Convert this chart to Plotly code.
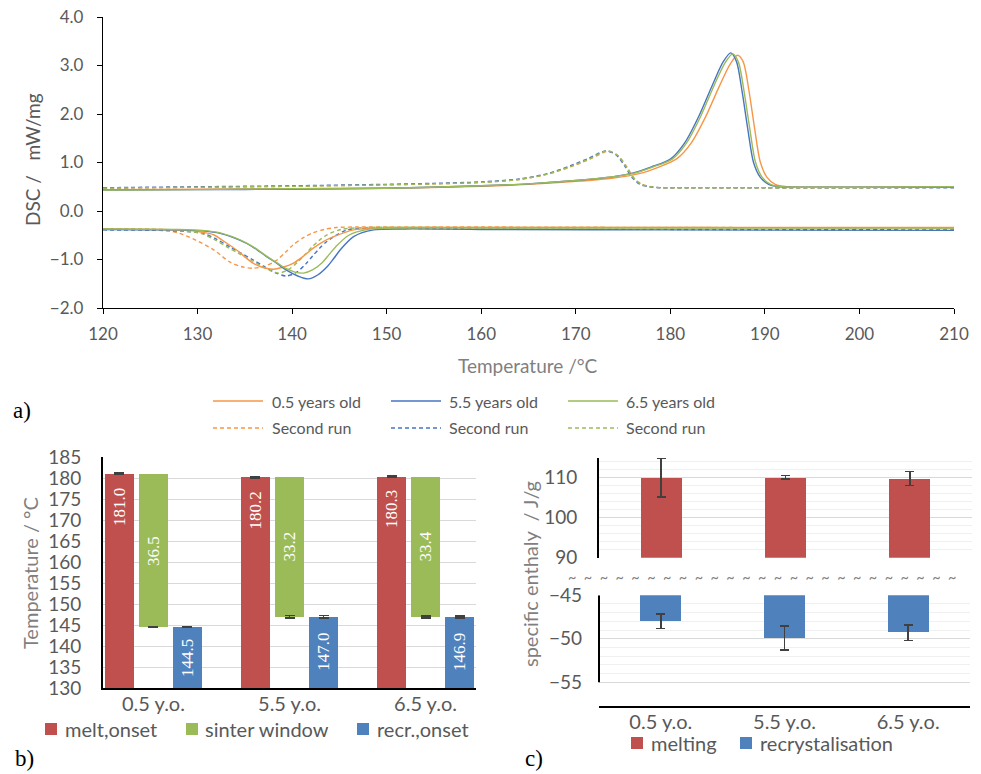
import plotly.graph_objects as go

W, H = 981, 774
def px(x): return x / W
def py(y): return 1 - y / H

SANS = "Lato"
SERIF = "Liberation Serif"
TICK = "#595959"
TITLE = "#7f7f7f"

# ---------------- a) DSC curves ----------------
samples = ["0.5 years old", "5.5 years old", "6.5 years old"]
colors = ["#F79646", "#4675C2", "#9BBB59"]

# first run, heating (melting peak)
T_heat_05 = [120, 130, 140, 150, 160, 165, 170, 174, 176.7, 178.7, 180.7, 182.2, 183.7, 185.2, 186.3, 187.1, 187.7, 188.3, 188.9, 189.5, 190.2, 191.1, 192.3, 195, 200, 210]
D_heat_05 = [0.44, 0.45, 0.46, 0.47, 0.51, 0.55, 0.61, 0.68, 0.77, 0.90, 1.08, 1.40, 1.93, 2.58, 3.02, 3.21, 3.08, 2.50, 1.72, 1.02, 0.70, 0.55, 0.50, 0.49, 0.49, 0.50]
T_heat_55 = [120, 130, 140, 150, 160, 165, 170, 174, 176, 178, 180, 181.5, 183, 184.5, 185.6, 186.4, 187.0, 187.6, 188.2, 188.8, 189.5, 190.4, 191.6, 195, 200, 210]
D_heat_55 = [0.43, 0.44, 0.45, 0.47, 0.52, 0.56, 0.63, 0.71, 0.78, 0.91, 1.07, 1.40, 1.95, 2.62, 3.08, 3.26, 3.08, 2.45, 1.68, 1.00, 0.70, 0.55, 0.50, 0.49, 0.49, 0.49]
T_heat_65 = [120, 130, 140, 150, 160, 165, 170, 174, 176.2, 178.2, 180.2, 181.7, 183.2, 184.7, 185.8, 186.6, 187.2, 187.8, 188.4, 189.0, 189.7, 190.6, 191.8, 195, 200, 210]
D_heat_65 = [0.43, 0.44, 0.46, 0.47, 0.52, 0.56, 0.63, 0.71, 0.78, 0.91, 1.07, 1.40, 1.95, 2.62, 3.06, 3.24, 3.07, 2.46, 1.70, 1.01, 0.70, 0.55, 0.50, 0.49, 0.49, 0.50]

# first run, cooling (recrystallisation)
T_cool_05 = [120, 126, 129, 130.5, 131.7, 132.9, 134.1, 135.9, 137.0, 138.0, 139.0, 140.1, 141.2, 142.2, 143.3, 144.4, 146.5, 150, 160, 180, 210]
D_cool_05 = [-0.37, -0.38, -0.40, -0.44, -0.49, -0.64, -0.80, -1.08, -1.17, -1.20, -1.16, -1.08, -0.93, -0.77, -0.63, -0.53, -0.39, -0.35, -0.34, -0.34, -0.34]
T_cool_55 = [120, 128, 130.5, 132.4, 133.8, 135.2, 136.3, 137.3, 138.4, 139.4, 140.6, 141.7, 142.7, 143.7, 144.4, 145.1, 146.5, 148.6, 152, 160, 180, 210]
D_cool_55 = [-0.38, -0.39, -0.41, -0.46, -0.55, -0.67, -0.80, -0.94, -1.08, -1.22, -1.34, -1.40, -1.32, -1.15, -0.98, -0.80, -0.53, -0.39, -0.37, -0.38, -0.39, -0.40]
T_cool_65 = [120, 128, 130.5, 132.4, 133.8, 135.2, 136.3, 137.3, 138.4, 139.4, 140.3, 141.2, 142.2, 143.2, 143.9, 144.6, 146.0, 148.0, 152, 160, 180, 210]
D_cool_65 = [-0.37, -0.38, -0.40, -0.45, -0.54, -0.66, -0.79, -0.93, -1.07, -1.19, -1.26, -1.28, -1.21, -1.06, -0.90, -0.74, -0.50, -0.38, -0.35, -0.35, -0.35, -0.35]

# second run, heating
T_heat2_05 = [120, 130, 140, 150, 155, 160, 164, 167, 169.6, 171.6, 173.4, 174.5, 175.4, 176.2, 177.0, 178.0, 179.2, 182, 190, 200, 210]
D_heat2_05 = [0.47, 0.49, 0.51, 0.54, 0.56, 0.59, 0.65, 0.76, 0.92, 1.08, 1.23, 1.14, 0.91, 0.67, 0.55, 0.50, 0.48, 0.48, 0.48, 0.48, 0.49]
T_heat2_55 = [120, 130, 140, 150, 155, 160, 164, 167, 169.4, 171.4, 173.2, 174.3, 175.2, 176.0, 176.8, 177.8, 179.0, 182, 190, 200, 210]
D_heat2_55 = [0.48, 0.50, 0.52, 0.55, 0.57, 0.60, 0.66, 0.77, 0.93, 1.09, 1.24, 1.15, 0.92, 0.68, 0.55, 0.50, 0.48, 0.48, 0.48, 0.48, 0.48]
T_heat2_65 = [120, 130, 140, 150, 155, 160, 164, 167, 169.5, 171.5, 173.3, 174.4, 175.3, 176.1, 176.9, 177.9, 179.1, 182, 190, 200, 210]
D_heat2_65 = [0.47, 0.49, 0.51, 0.54, 0.56, 0.59, 0.65, 0.76, 0.92, 1.08, 1.24, 1.15, 0.92, 0.68, 0.55, 0.50, 0.48, 0.48, 0.48, 0.48, 0.49]

# second run, cooling
T_cool2_05 = [120, 125, 127, 128.1, 129.8, 131.7, 133.4, 134.7, 135.9, 137.1, 138.4, 139.3, 140.1, 141.2, 142.2, 143.4, 144.7, 147, 150, 160, 180, 210]
D_cool2_05 = [-0.37, -0.38, -0.41, -0.46, -0.60, -0.80, -1.05, -1.15, -1.18, -1.14, -1.01, -0.85, -0.70, -0.55, -0.45, -0.38, -0.34, -0.33, -0.33, -0.33, -0.34, -0.35]
T_cool2_55 = [120, 126, 128.5, 130.6, 132.0, 133.4, 134.7, 135.9, 137.0, 138.2, 139.4, 140.5, 141.5, 142.2, 142.9, 143.6, 144.4, 145.8, 148, 160, 180, 210]
D_cool2_55 = [-0.39, -0.40, -0.42, -0.46, -0.58, -0.74, -0.88, -1.01, -1.14, -1.27, -1.34, -1.26, -1.08, -0.92, -0.77, -0.64, -0.53, -0.39, -0.36, -0.37, -0.38, -0.39]
T_cool2_65 = [120, 126, 128.3, 130.3, 131.7, 133.1, 134.4, 135.6, 136.7, 137.7, 138.6, 139.6, 140.6, 141.4, 142.1, 142.9, 143.7, 145.2, 148, 160, 180, 210]
D_cool2_65 = [-0.37, -0.38, -0.41, -0.46, -0.58, -0.74, -0.88, -1.01, -1.13, -1.23, -1.28, -1.21, -1.05, -0.89, -0.74, -0.60, -0.49, -0.38, -0.34, -0.34, -0.34, -0.35]

dsc_xticks = [120, 130, 140, 150, 160, 170, 180, 190, 200, 210]
dsc_yticks = [-2.0, -1.0, 0.0, 1.0, 2.0, 3.0, 4.0]

# ---------------- b) onset temperatures ----------------
categories = ["0.5 y.o.", "5.5 y.o.", "6.5 y.o."]
melt_onset = [181.0, 180.2, 180.3]
melt_onset_err = [0.2, 0.15, 0.15]
sinter_window = [36.5, 33.2, 33.4]
recr_onset = [144.5, 147.0, 146.9]
recr_onset_err = [0.15, 0.3, 0.25]
temp_ticks = [130, 135, 140, 145, 150, 155, 160, 165, 170, 175, 180, 185]

# ---------------- c) specific enthalpy ----------------
melting_enthalpy = [110.0, 110.1, 109.8]
melting_err = [4.8, 0.4, 1.8]
recryst_enthalpy = [-48.0, -49.9, -49.3]
recryst_err = [0.83, 1.38, 0.88]

fig = go.Figure()

# ---- a) traces
heat1 = [(T_heat_05, D_heat_05), (T_heat_55, D_heat_55), (T_heat_65, D_heat_65)]
cool1 = [(T_cool_05, D_cool_05), (T_cool_55, D_cool_55), (T_cool_65, D_cool_65)]
heat2 = [(T_heat2_05, D_heat2_05), (T_heat2_55, D_heat2_55), (T_heat2_65, D_heat2_65)]
cool2 = [(T_cool2_05, D_cool2_05), (T_cool2_55, D_cool2_55), (T_cool2_65, D_cool2_65)]

for heats, cools, dash in [(heat2, cool2, "4px,3px"), (heat1, cool1, "solid")]:
    for i in range(3):
        hx, hy = heats[i]
        cx, cy = cools[i]
        fig.add_trace(go.Scatter(
            x=list(hx) + [None] + list(cx), y=list(hy) + [None] + list(cy),
            mode="lines", line=dict(color=colors[i], width=1.4, dash=dash, shape="spline", smoothing=0.8),
            xaxis="x", yaxis="y", showlegend=False, connectgaps=False,
            name=samples[i] if dash == "solid" else "Second run"))

# ---- b) bars
BW = 0.213
red, green, blue = "#C0504D", "#9BBB59", "#4F81BD"
ERRC = "#404040"
xb = list(range(len(categories)))
fig.add_trace(go.Bar(x=xb, y=[m - 130 for m in melt_onset], base=130, width=BW, offset=-0.25 - BW / 2,
                     marker=dict(color=red, line=dict(width=0)), name="melt,onset",
                     error_y=dict(type="data", array=melt_onset_err, color=ERRC, thickness=1.5, width=5),
                     xaxis="x2", yaxis="y2", showlegend=False))
fig.add_trace(go.Bar(x=xb, y=[-w for w in sinter_window], base=melt_onset, width=BW, offset=-BW / 2,
                     marker=dict(color=green, line=dict(width=0)), name="sinter window",
                     error_y=dict(type="data", array=recr_onset_err, color=ERRC, thickness=1.5, width=5),
                     xaxis="x2", yaxis="y2", showlegend=False))
fig.add_trace(go.Bar(x=xb, y=[r - 130 for r in recr_onset], base=130, width=BW, offset=0.25 - BW / 2,
                     marker=dict(color=blue, line=dict(width=0)), name="recr.,onset",
                     error_y=dict(type="data", array=recr_onset_err, color=ERRC, thickness=1.5, width=5),
                     xaxis="x2", yaxis="y2", showlegend=False))

# ---- c) bars
CW = 0.33
fig.add_trace(go.Bar(x=xb, y=[m - 90 for m in melting_enthalpy], base=90, width=CW,
                     marker=dict(color=red, line=dict(width=0)), name="melting",
                     error_y=dict(type="data", array=melting_err, color=ERRC, thickness=1.5, width=4.5),
                     xaxis="x3", yaxis="y3", showlegend=False))
fig.add_trace(go.Bar(x=xb, y=[r + 45 for r in recryst_enthalpy], base=-45, width=CW,
                     marker=dict(color=blue, line=dict(width=0)), name="recrystalisation",
                     error_y=dict(type="data", array=recryst_err, color=ERRC, thickness=1.5, width=4.5),
                     xaxis="x4", yaxis="y4", showlegend=False))

ann = []
shapes = []

# bar value labels (b)
lab_font = dict(family=SERIF, size=17, color="white")
for i in range(len(categories)):
    ann.append(dict(x=i - 0.25, y=melt_onset[i] - 7.8, xref="x2", yref="y2", text=f"{melt_onset[i]:.1f}",
                    textangle=-90, showarrow=False, font=lab_font, xanchor="center", yanchor="middle"))
    ann.append(dict(x=i, y=melt_onset[i] - sinter_window[i] / 2, xref="x2", yref="y2", text=f"{sinter_window[i]:.1f}",
                    textangle=-90, showarrow=False, font=lab_font, xanchor="center", yanchor="middle"))
    ann.append(dict(x=i + 0.25, y=(130 + recr_onset[i]) / 2, xref="x2", yref="y2", text=f"{recr_onset[i]:.1f}",
                    textangle=-90, showarrow=False, font=lab_font, xanchor="center", yanchor="middle"))

# axis titles
ann.append(dict(x=px(33), y=py(160), xref="paper", yref="paper", text="DSC /\u00a0\u00a0\u00a0mW/mg", textangle=-90,
                showarrow=False, font=dict(family=SANS, size=19, color=TICK), xanchor="center", yanchor="middle"))
ann.append(dict(x=px(528), y=py(366), xref="paper", yref="paper", text="Temperature /°C",
                showarrow=False, font=dict(family=SANS, size=19, color=TITLE), xanchor="center", yanchor="middle"))
ann.append(dict(x=px(30), y=py(573), xref="paper", yref="paper", text="Temperature / °C", textangle=-90,
                showarrow=False, font=dict(family=SANS, size=20, color=TITLE), xanchor="center", yanchor="middle"))
ann.append(dict(x=px(530), y=py(574), xref="paper", yref="paper", text="specific enthaly\u00a0\u00a0/ J/g", textangle=-90,
                showarrow=False, font=dict(family=SANS, size=20, color=TITLE), xanchor="center", yanchor="middle"))

# panel letters
for txt, x, y in [("a)", 22, 410), ("b)", 24, 758), ("c)", 534, 758)]:
    ann.append(dict(x=px(x), y=py(y), xref="paper", yref="paper", text=txt, showarrow=False,
                    font=dict(family=SERIF, size=23, color="black"), xanchor="center", yanchor="middle"))

# axis-break tildes in c
ann.append(dict(x=px(566), y=py(577), xref="paper", yref="paper", text="\u00a0\u00a0".join(["~"] * 25),
                showarrow=False, font=dict(family=SANS, size=14.5, color=TITLE), xanchor="left", yanchor="middle"))

# legend a
leg_font = dict(family=SANS, size=16, color=TICK)
cols = [(213, 263, 270), (391, 441, 447), (568, 618, 624)]
for i in range(3):
    x0, x1, xt = cols[i]
    for yrow, dash, label in [(401, "solid", samples[i]), (428, "4px,3px", "Second run")]:
        shapes.append(dict(type="line", xref="paper", yref="paper", x0=px(x0), x1=px(x1), y0=py(yrow), y1=py(yrow),
                           line=dict(color=colors[i], width=1.4, dash=dash)))
        ann.append(dict(x=px(xt), y=py(yrow), xref="paper", yref="paper", text=label, showarrow=False,
                        font=leg_font, xanchor="left", yanchor="middle"))

# legend b
leg2_font = dict(family=SANS, size=20, color=TICK)
for (sx, tx), col, label in zip([(45, 63), (186, 203), (357, 375)], [red, green, blue],
                                ["melt,onset", "sinter window", "recr.,onset"]):
    shapes.append(dict(type="rect", xref="paper", yref="paper", x0=px(sx), x1=px(sx + 12), y0=py(735), y1=py(723),
                       fillcolor=col, line=dict(width=0)))
    ann.append(dict(x=px(tx), y=py(729), xref="paper", yref="paper", text=label, showarrow=False,
                    font=leg2_font, xanchor="left", yanchor="middle"))

# legend c
for (sx, tx), col, label in zip([(631, 649), (740, 758)], [red, blue], ["melting", "recrystalisation"]):
    shapes.append(dict(type="rect", xref="paper", yref="paper", x0=px(sx), x1=px(sx + 12), y0=py(749), y1=py(737),
                       fillcolor=col, line=dict(width=0)))
    ann.append(dict(x=px(tx), y=py(743), xref="paper", yref="paper", text=label, showarrow=False,
                    font=leg2_font, xanchor="left", yanchor="middle"))

# c lower panel y-axis line (stops at -55)
shapes.append(dict(type="line", xref="paper", yref="y4", x0=px(599), x1=px(599), y0=-45, y1=-55,
                   line=dict(color="black", width=2)))

fig.update_layout(
    template="none",
    width=W, height=H, autosize=False, margin=dict(l=0, r=0, t=0, b=0, pad=0, autoexpand=False),
    paper_bgcolor="white", plot_bgcolor="white", barmode="overlay", bargap=0,
    annotations=ann, shapes=shapes, showlegend=False,
    xaxis=dict(domain=[px(103), px(954)], range=[120, 210], tickvals=dsc_xticks, anchor="y", automargin=False,
               showline=True, linecolor="black", linewidth=1.3, ticks="outside", ticklen=5, tickwidth=1.3,
               tickcolor="black", showgrid=False, zeroline=False, ticklabelstandoff=5,
               tickfont=dict(family=SANS, size=17, color=TICK)),
    yaxis=dict(domain=[py(308), py(17)], range=[-2, 4], tickvals=dsc_yticks, tickformat=".1f", anchor="x",
               automargin=False,
               showline=True, linecolor="black", linewidth=1.3, ticks="outside", ticklen=5, tickwidth=1.3,
               tickcolor="black", showgrid=False, zeroline=False, ticklabelstandoff=10,
               tickfont=dict(family=SANS, size=17, color=TICK)),
    xaxis2=dict(domain=[px(103), px(476)], range=[-0.371, 2.371], tickvals=xb, ticktext=categories, anchor="y2",
                automargin=False,
                showline=True, linecolor="black", linewidth=2, ticks="", showgrid=False, zeroline=False,
                ticklabelstandoff=-3, tickfont=dict(family=SANS, size=20, color=TICK)),
    yaxis2=dict(domain=[py(688), py(457)], range=[130, 185], tickvals=temp_ticks, anchor="x2", automargin=False,
                showline=True, linecolor="black", linewidth=2, ticks="", showgrid=True, gridcolor="#d9d9d9",
                gridwidth=1.3, zeroline=False, ticklabelstandoff=16,
                tickfont=dict(family=SANS, size=19, color=TICK)),
    xaxis3=dict(domain=[px(599), px(972)], range=[-0.5, 2.5], anchor="y3", visible=False, automargin=False),
    yaxis3=dict(domain=[py(557.7), py(457.7)], range=[90, 115], tickvals=[90, 100, 110], anchor="x3",
                automargin=False,
                showline=True, linecolor="black", linewidth=2, ticks="", showgrid=True, gridcolor="#d9d9d9",
                gridwidth=1.3, zeroline=False, ticklabelstandoff=16,
                minor=dict(tickvals=[92, 94, 96, 98, 102, 104, 106, 108, 112, 114], showgrid=True,
                           gridcolor="#f0f0f0", gridwidth=1.3, ticks=""),
                tickfont=dict(family=SANS, size=19, color=TICK)),
    xaxis4=dict(domain=[px(599), px(970)], range=[-0.5, 2.5], tickvals=xb, ticktext=categories, anchor="y4",
                automargin=False,
                showline=True, linecolor="black", linewidth=2, ticks="", showgrid=False, zeroline=False,
                ticklabelstandoff=-3, tickfont=dict(family=SANS, size=20, color=TICK)),
    yaxis4=dict(domain=[py(705.7), py(595.3)], range=[-57.7, -45], tickvals=[-55, -50, -45], anchor="x4",
                automargin=False,
                showline=False, ticks="", showgrid=True, gridcolor="#d9d9d9", gridwidth=1.3, zeroline=False,
                ticklabelstandoff=16,
                minor=dict(tickvals=[-54, -53, -52, -51, -49, -48, -47, -46], showgrid=True,
                           gridcolor="#f0f0f0", gridwidth=1.3, ticks=""),
                tickfont=dict(family=SANS, size=19, color=TICK)),
)

fig.write_html("out.html")
